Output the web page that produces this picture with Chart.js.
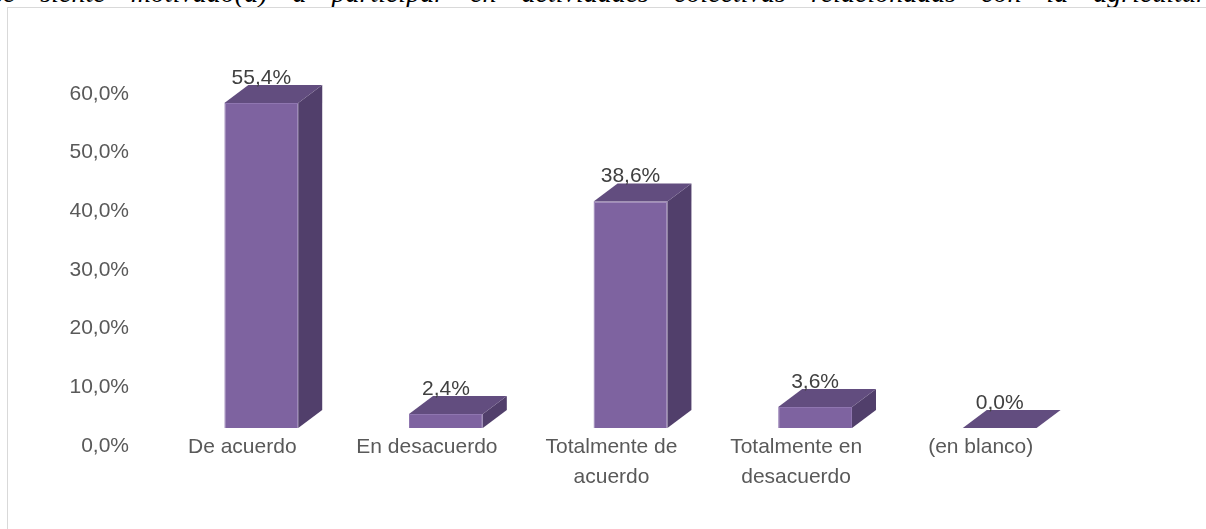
<!DOCTYPE html>
<html>
<head>
<meta charset="utf-8">
<script src="https://cdn.jsdelivr.net/npm/chart.js@4"></script>
<style>
  html, body { margin: 0; padding: 0; background: #fff; overflow: hidden; width: 1206px; height: 529px; }
  #caption {
    position: absolute; left: -8px; top: -21px; white-space: nowrap;
    font: italic 28px "Liberation Serif", serif; line-height: 28px; word-spacing: 18px; color: #000;
  }
  #frame { position: absolute; left: 7px; top: 7px; width: 1300px; height: 600px; border: 1px solid #d9d9d9; }
  canvas { position: absolute; left: 0; top: 0; }
</style>
</head>
<body>
<div id="caption">se siente motivado(a) a participar en actividades colectivas relacionadas con la agricultura</div>
<div id="frame"></div>
<canvas id="chart" width="1206" height="529"></canvas>
<script>
(function () {
  'use strict';

  var categories = ['De acuerdo', 'En desacuerdo', ['Totalmente de', 'acuerdo'], ['Totalmente en', 'desacuerdo'], '(en blanco)'];
  var values = [55.4, 2.4, 38.6, 3.6, 0.0];
  var yTicks = [0, 10, 20, 30, 40, 50, 60];

  function pct(v) { return v.toFixed(1).replace('.', ',') + '%'; }

  // fake 3D: side + top faces and value labels, built on the bar elements
  var DX = 24, DY = 18;
  var box3d = {
    id: 'box3d',
    afterDatasetDraw: function (chart, args) {
      var ctx = chart.ctx;
      args.meta.data.forEach(function (bar, i) {
        var p = bar.getProps(['x', 'y', 'base', 'width'], true);
        var l = p.x - p.width / 2, r = p.x + p.width / 2, t = p.y, b = p.base;
        ctx.save();
        // right side
        ctx.fillStyle = '#513f6b';
        ctx.beginPath();
        ctx.moveTo(r, t); ctx.lineTo(r + DX, t - DY); ctx.lineTo(r + DX, b - DY); ctx.lineTo(r, b);
        ctx.closePath(); ctx.fill();
        // top
        ctx.fillStyle = '#624d7f';
        ctx.beginPath();
        ctx.moveTo(l, t); ctx.lineTo(l + DX, t - DY); ctx.lineTo(r + DX, t - DY); ctx.lineTo(r, t);
        ctx.closePath(); ctx.fill();
        // value label
        ctx.fillStyle = '#404040';
        ctx.font = '21px "Liberation Sans", Arial, sans-serif';
        ctx.textAlign = 'center';
        ctx.textBaseline = 'middle';
        ctx.fillText(pct(values[i]), p.x, t - 25);
        ctx.restore();
      });
    }
  };

  new Chart(document.getElementById('chart').getContext('2d'), {
    type: 'bar',
    data: {
      labels: categories,
      datasets: [{
        data: values,
        backgroundColor: '#7e63a0',
        borderColor: '#8f76b0',
        borderWidth: 1,
        barPercentage: 0.4,
        categoryPercentage: 1.0
      }]
    },
    plugins: [box3d],
    options: {
      responsive: false,
      animation: false,
      layout: { padding: { top: 76, right: 114, left: 0, bottom: 0 } },
      plugins: { legend: { display: false }, tooltip: { enabled: false } },
      scales: {
        x: {
          grid: { display: false },
          border: { display: false },
          ticks: {
            color: '#595959',
            font: { family: '"Liberation Sans", Arial, sans-serif', size: 21, lineHeight: 1.45 },
            padding: -4,
            labelOffset: -19,
            maxRotation: 0,
            autoSkip: false
          },
          afterFit: function (s) { s.height = 101; }
        },
        y: {
          min: 0,
          max: 60,
          grid: { display: false },
          border: { display: false },
          afterBuildTicks: function (s) { s.ticks = yTicks.map(function (v) { return { value: v }; }); },
          ticks: {
            color: '#595959',
            font: { family: '"Liberation Sans", Arial, sans-serif', size: 21 },
            padding: 32,
            labelOffset: 18,
            callback: function (v) { return pct(v); }
          },
          afterFit: function (s) { s.width = 169; }
        }
      }
    }
  });
})();
</script>
</body>
</html>
